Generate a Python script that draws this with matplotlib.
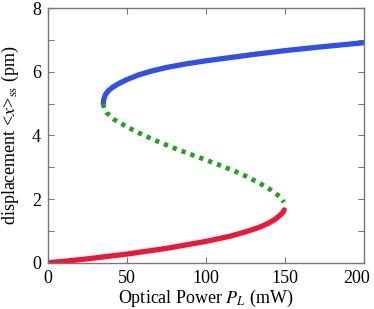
import numpy as np
import matplotlib.pyplot as plt
import matplotlib.transforms as mtransforms

plt.rcParams['font.family'] = ['Liberation Serif', 'DejaVu Serif']
plt.rcParams['mathtext.fontset'] = 'stix'

# upper stable branch (blue)
p_upper = [35.0, 35.4, 36.5, 38.5, 41, 45, 50, 57, 65, 75, 87, 100, 115, 130, 150, 175, 200]
x_upper = [5.0, 5.15, 5.3, 5.42, 5.52, 5.64, 5.76, 5.9, 6.02, 6.14, 6.25, 6.35, 6.45, 6.55, 6.67, 6.8, 6.92]

# unstable middle branch (green, dotted)
p_middle = [35.0, 35.5, 37, 42, 50, 60, 70, 80, 90, 100, 110, 118, 126, 133, 139, 144, 147.5, 149.2]
x_middle = [5.0, 4.85, 4.72, 4.5, 4.27, 4.02, 3.8, 3.6, 3.41, 3.23, 3.04, 2.88, 2.7, 2.52, 2.35, 2.18, 2.03, 1.9]

# lower stable branch (red)
p_lower = [0, 10, 25, 50, 75, 100, 115, 125, 133, 139, 143.5, 146.5, 148.5, 149.4]
x_lower = [0.0, 0.04, 0.12, 0.27, 0.45, 0.67, 0.83, 0.97, 1.1, 1.23, 1.36, 1.48, 1.58, 1.66]

fig, ax = plt.subplots(figsize=(3.74, 3.09), dpi=100)
fig.subplots_adjust(left=0.128, right=0.974, bottom=0.15, top=0.973)

ax.plot(p_upper, x_upper, color='#3050e8', lw=3.8, solid_capstyle='round', zorder=2)
ax.plot(p_lower, x_lower, color='#e8193c', lw=3.8, solid_capstyle='round', zorder=2)
ax.plot(p_middle, x_middle, color='#22a022', lw=3.4, linestyle=(0, (0.9, 1.1)), zorder=3)

ax.set_xlim(0, 200)
ax.set_ylim(0, 8)
ax.set_xticks([0, 50, 100, 150, 200])
ax.set_yticks([0, 1, 2, 3, 4, 5, 6, 7, 8])
ax.set_yticklabels(['0', '', '2', '', '4', '', '6', '', '8'])

for s in ax.spines.values():
    s.set_color('#777777')
    s.set_linewidth(1.0)
ax.tick_params(direction='in', top=True, right=True, length=4, color='#777777',
               labelsize=13, pad=5)

# pull the last x tick label inside the figure
lbl = ax.get_xticklabels()[-1]
lbl.set_transform(lbl.get_transform() + mtransforms.ScaledTranslation(-8 / 100, 0, fig.dpi_scale_trans))

ax.set_xlabel(r'Optical Power $P_L$ (mW)', fontsize=13, labelpad=1)
ax.set_ylabel(r'displacement <$x$>$_{\mathrm{ss}}$ (pm)', fontsize=13, labelpad=8)

fig.savefig('out.png', dpi=100)
